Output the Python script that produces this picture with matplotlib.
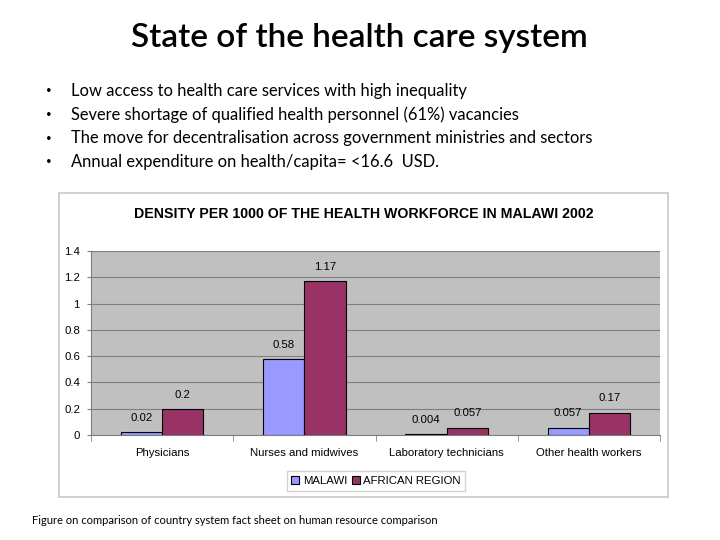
import numpy as np
import matplotlib
matplotlib.use("Agg")
import matplotlib.pyplot as plt
from matplotlib.patches import Rectangle

# =====================================================
# DATA
# =====================================================
categories = ["Physicians", "Nurses and midwives", "Laboratory technicians", "Other health workers"]
malawi = [0.02, 0.58, 0.004, 0.057]
african_region = [0.2, 1.17, 0.057, 0.17]
malawi_labels = ["0.02", "0.58", "0.004", "0.057"]
african_labels = ["0.2", "1.17", "0.057", "0.17"]
series_names = ["MALAWI", "AFRICAN REGION"]

bullets = [
    "Low access to health care services with high inequality",
    "Severe shortage of qualified health personnel (61%) vacancies",
    "The move for decentralisation across government ministries and sectors",
    "Annual expenditure on health/capita= <16.6  USD.",
]

SLIDE_FONT = "Lato"
CHART_FONT = "Liberation Sans"
LBL = 8.2

# =====================================================
# FIGURE
# =====================================================
fig = plt.figure(figsize=(7.2, 5.4), dpi=100)
fig.patch.set_facecolor("white")

fig.text(359 / 720, 1 - 38 / 540, "State of the health care system",
         ha="center", va="center", fontsize=24, family=SLIDE_FONT, fontweight="semibold")

for i, b in enumerate(bullets):
    y = 1 - (91 + i * 23.5) / 540
    fig.text(46 / 720, y, "•", ha="left", va="center", fontsize=7, family=SLIDE_FONT)
    fig.text(71 / 720, y, b, ha="left", va="center", fontsize=11.9, family=SLIDE_FONT)

# chart frame (behind the axes)
fig.patches.append(Rectangle((59 / 720, 1 - 497 / 540), 609 / 720, 304 / 540,
                             transform=fig.transFigure, facecolor="white",
                             edgecolor="#c8c8c8", linewidth=1.2, zorder=-5))

fig.text(364 / 720, 1 - 214 / 540, "DENSITY PER 1000 OF THE HEALTH WORKFORCE IN MALAWI 2002",
         ha="center", va="center", fontsize=10.2, fontweight="bold", family=CHART_FONT)

ax = fig.add_axes([91 / 720, 1 - 435 / 540, 569 / 720, 184 / 540])
ax.set_facecolor("#c0c0c0")

x = np.arange(len(categories))
w = 0.29
b1 = ax.bar(x - w / 2, malawi, w, color="#9999ff", edgecolor="black", linewidth=0.8,
            label=series_names[0], zorder=3)
b2 = ax.bar(x + w / 2, african_region, w, color="#993366", edgecolor="black", linewidth=0.8,
            label=series_names[1], zorder=3)

for rect, lab in zip(b1, malawi_labels):
    ax.text(rect.get_x() + rect.get_width() / 2, rect.get_height() + 0.07, lab,
            ha="center", va="bottom", fontsize=LBL, family=CHART_FONT)
for rect, lab in zip(b2, african_labels):
    ax.text(rect.get_x() + rect.get_width() / 2, rect.get_height() + 0.07, lab,
            ha="center", va="bottom", fontsize=LBL, family=CHART_FONT)

ax.set_xlim(-0.5, len(categories) - 0.5)
ax.set_ylim(0, 1.4)
ax.set_yticks(np.arange(0, 1.41, 0.2))
ax.set_yticklabels(["0", "0.2", "0.4", "0.6", "0.8", "1", "1.2", "1.4"],
                   fontsize=LBL, family=CHART_FONT)
ax.yaxis.grid(True, color="#7f7f7f", linewidth=0.8, zorder=1)
ax.set_axisbelow(True)

ax.set_xticks(x)
ax.set_xticklabels(categories, fontsize=LBL, family=CHART_FONT)
ax.tick_params(axis="x", length=0, pad=9)
ax.set_xticks(np.arange(-0.5, len(categories)), minor=True)
ax.tick_params(axis="x", which="minor", length=4, color="#7f7f7f")
ax.tick_params(axis="y", length=3, color="#7f7f7f", pad=5)

for side in ["top", "right"]:
    ax.spines[side].set_visible(False)
ax.spines["left"].set_color("#7f7f7f")
ax.spines["bottom"].set_color("#7f7f7f")

leg = fig.legend(loc="center", bbox_to_anchor=(376 / 720, 1 - 481 / 540), ncol=2,
                 frameon=True, fancybox=False, edgecolor="#c8c8c8",
                 handlelength=0.7, handleheight=0.7, handletextpad=0.3,
                 columnspacing=0.4, borderpad=0.4, prop={"family": CHART_FONT, "size": LBL})

fig.text(32 / 720, 1 - 520 / 540,
         "Figure on comparison of country system fact sheet on human resource comparison",
         ha="left", va="center", fontsize=8.0, family=SLIDE_FONT)

fig.savefig("out.png", dpi=100)
